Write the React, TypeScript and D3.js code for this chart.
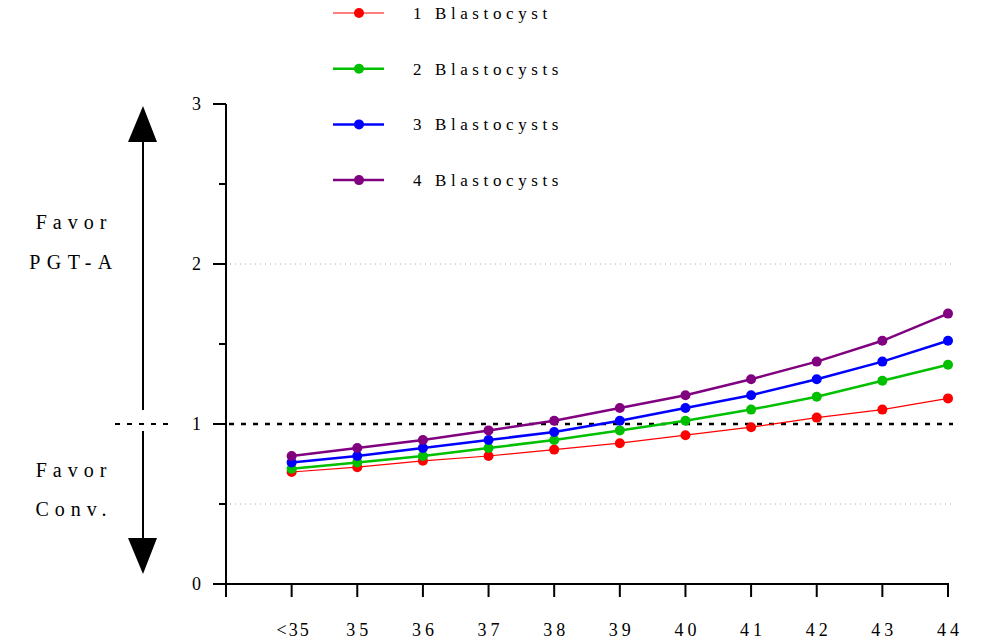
import React from 'react';
import * as d3 from 'd3';

const ages = ['<35', '35', '36', '37', '38', '39', '40', '41', '42', '43', '44'];

const oneBlast = [0.70, 0.73, 0.77, 0.80, 0.84, 0.88, 0.93, 0.98, 1.04, 1.09, 1.16];
const twoBlast = [0.72, 0.76, 0.80, 0.85, 0.90, 0.96, 1.02, 1.09, 1.17, 1.27, 1.37];
const threeBlast = [0.76, 0.80, 0.85, 0.90, 0.95, 1.02, 1.10, 1.18, 1.28, 1.39, 1.52];
const fourBlast = [0.80, 0.85, 0.90, 0.96, 1.02, 1.10, 1.18, 1.28, 1.39, 1.52, 1.69];

const seriesNames = ['1 Blastocyst', '2 Blastocysts', '3 Blastocysts', '4 Blastocysts'];
const seriesColors = ['#ff0000', '#00c000', '#0000ff', '#800080'];
const seriesWidths = [1.2, 2.5, 2.5, 2.5];

const yMajor = [0, 1, 2, 3];
const yMinor = [0.5, 1.5, 2.5];
const dottedGrid = [0.5, 2];

const App: React.FC = () => {
  const width = 986;
  const height = 644;
  const x0 = 226, x1 = 948;
  const y0 = 584, y1 = 104;

  const x = d3.scaleLinear().domain([0, ages.length]).range([x0, x1]);
  const y = d3.scaleLinear().domain([0, 3]).range([y0, y1]);

  const all = [oneBlast, twoBlast, threeBlast, fourBlast];
  const line = d3.line<number>().x((_, i) => x(i + 1)).y(d => y(d));

  return (
    <svg width={width} height={height} fontFamily="Liberation Serif"
      style={{ display: 'block', position: 'absolute', left: 0, top: 0, background: '#fff' }}>
      {/* grid */}
      {dottedGrid.map(v => (
        <line key={v} x1={x0 + 4} x2={955} y1={y(v)} y2={y(v)}
          stroke="#aaa" strokeWidth={1} strokeDasharray="1,4" />
      ))}
      <line x1={x0 + 3} x2={953} y1={y(1)} y2={y(1)} stroke="#000" strokeWidth={2.5} strokeDasharray="5,7" />

      {/* axes */}
      <line x1={x0} x2={x0} y1={y1} y2={y0} stroke="#000" strokeWidth={2} />
      <line x1={x0} x2={x1 + 1} y1={y0} y2={y0} stroke="#000" strokeWidth={2} />
      {yMajor.map(v => (
        <g key={v}>
          <line x1={x0 - 13} x2={x0} y1={y(v)} y2={y(v)} stroke="#000" strokeWidth={2} />
          <text x={x0 - 25} y={y(v) + 6} textAnchor="end" fontSize={18}>{v}</text>
        </g>
      ))}
      {yMinor.map(v => (
        <line key={v} x1={x0 - 7} x2={x0} y1={y(v)} y2={y(v)} stroke="#000" strokeWidth={2} />
      ))}
      {d3.range(0, ages.length + 1).map(i => (
        <line key={i} x1={x(i)} x2={x(i)} y1={y0} y2={y0 + 13} stroke="#000" strokeWidth={2} />
      ))}
      {ages.map((a, i) => (
        <text key={a} x={x(i + 1) + 2} y={636} textAnchor="middle"
          fontSize={18} letterSpacing={i === 0 ? 2 : 4}>{a}</text>
      ))}

      {/* series */}
      {all.map((s, k) => (
        <g key={k}>
          <path d={line(s) || ''} fill="none" stroke={seriesColors[k]} strokeWidth={seriesWidths[k]} />
          {s.map((v, i) => (
            <circle key={i} cx={x(i + 1)} cy={y(v)} r={5} fill={seriesColors[k]} />
          ))}
        </g>
      ))}

      {/* legend */}
      {seriesNames.map((n, k) => {
        const ly = 13 + k * 55.7;
        return (
          <g key={n}>
            <line x1={333} x2={384} y1={ly} y2={ly} stroke={seriesColors[k]} strokeWidth={seriesWidths[k]} />
            <circle cx={359} cy={ly} r={5} fill={seriesColors[k]} />
            <text x={413} y={ly + 6} fontSize={17} letterSpacing={4.6}>{n}</text>
          </g>
        );
      })}

      {/* left annotation */}
      <line x1={115} x2={170} y1={y(1)} y2={y(1)} stroke="#000" strokeWidth={2} strokeDasharray="5,7" />
      <line x1={143} x2={143} y1={410} y2={140} stroke="#000" strokeWidth={2} />
      <polygon points="143,106 128,142 157,142" fill="#000" />
      <line x1={143} x2={143} y1={431} y2={540} stroke="#000" strokeWidth={2} />
      <polygon points="143,574 128,538 157,538" fill="#000" />
      <text x={74} y={229} textAnchor="middle" fontSize={20} letterSpacing={6}>Favor</text>
      <text x={74} y={269} textAnchor="middle" fontSize={20} letterSpacing={6.5}>PGT-A</text>
      <text x={74} y={477} textAnchor="middle" fontSize={20} letterSpacing={6}>Favor</text>
      <text x={74} y={516} textAnchor="middle" fontSize={20} letterSpacing={6}>Conv.</text>
    </svg>
  );
};

export default App;
